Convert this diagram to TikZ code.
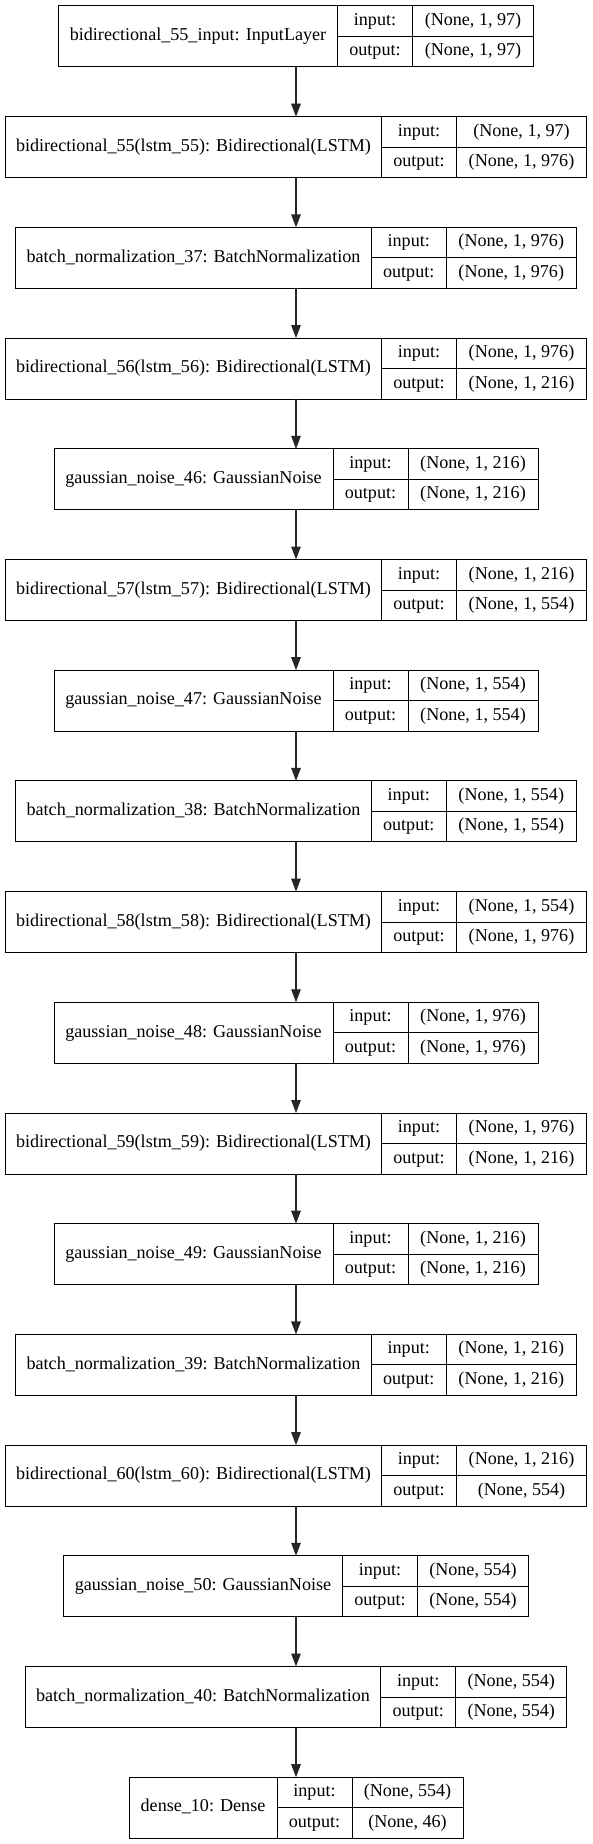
\documentclass[tikz,border=0pt]{standalone}
\usepackage{fontspec}
\setmainfont{Liberation Serif}
\usetikzlibrary{arrows.meta}
\tikzset{
 box/.style={draw=black, line width=1pt, minimum height=61pt, inner sep=0pt, outer sep=0pt},
 sep/.style={draw=black, line width=1pt},
 txt/.style={inner sep=0pt, font=\fontsize{18.1}{21}\selectfont, text=black, text height=12.5pt, text depth=4pt},
 arr/.style={draw=black!85, line width=1.2pt, -{Triangle[length=13pt,width=9.5pt]}}
}
% #1 id, #2 index, #3 label, #4 name width, #5 input shape, #6 output shape, #7 shape width
\newcommand\layer[7]{%
 \pgfmathsetmacro\tot{#4+75+#7}%
 \pgfmathsetmacro\yc{-(6+110.7*#2+30.5)}%
 \pgfmathsetmacro\xa{296-\tot/2}%
 \pgfmathsetmacro\xb{\xa+#4}%
 \pgfmathsetmacro\xc{\xb+75}%
 \pgfmathsetmacro\xd{\xa+\tot}%
 \node[box, minimum width=\tot pt] (#1) at (296,\yc) {};
 \draw[sep] (\xb,{\yc+30.5}) -- (\xb,{\yc-30.5});
 \draw[sep] (\xc,{\yc+30.5}) -- (\xc,{\yc-30.5});
 \draw[sep] (\xb,\yc) -- (\xd,\yc);
 \node[txt] (#1-n) at ({(\xa+\xb)/2},\yc) {#3};
 \node[txt] (#1-il) at ({\xb+37.5},{\yc+15.25}) {input:};
 \node[txt] (#1-ol) at ({\xb+37.5},{\yc-15.25}) {output:};
 \node[txt] (#1-iv) at ({(\xc+\xd)/2},{\yc+15.25}) {#5};
 \node[txt] (#1-ov) at ({(\xc+\xd)/2},{\yc-15.25}) {#6};
}
\begin{document}
\begin{tikzpicture}[x=1pt,y=1pt]
\useasboundingbox (0,0) rectangle (592,-1844);
\fill[white] (0,0) rectangle (592,-1844);
\layer{in55}{0}{bidirectional\_55\_input: InputLayer}{279}{(None, 1, 97)}{(None, 1, 97)}{121}
\layer{bi55}{1}{bidirectional\_55(lstm\_55): Bidirectional(LSTM)}{376}{(None, 1, 97)}{(None, 1, 976)}{130}
\layer{bn37}{2}{batch\_normalization\_37: BatchNormalization}{355.5}{(None, 1, 976)}{(None, 1, 976)}{130}
\layer{bi56}{3}{bidirectional\_56(lstm\_56): Bidirectional(LSTM)}{376}{(None, 1, 976)}{(None, 1, 216)}{130}
\layer{gn46}{4}{gaussian\_noise\_46: GaussianNoise}{279}{(None, 1, 216)}{(None, 1, 216)}{130}
\layer{bi57}{5}{bidirectional\_57(lstm\_57): Bidirectional(LSTM)}{376}{(None, 1, 216)}{(None, 1, 554)}{130}
\layer{gn47}{6}{gaussian\_noise\_47: GaussianNoise}{279}{(None, 1, 554)}{(None, 1, 554)}{130}
\layer{bn38}{7}{batch\_normalization\_38: BatchNormalization}{355.5}{(None, 1, 554)}{(None, 1, 554)}{130}
\layer{bi58}{8}{bidirectional\_58(lstm\_58): Bidirectional(LSTM)}{376}{(None, 1, 554)}{(None, 1, 976)}{130}
\layer{gn48}{9}{gaussian\_noise\_48: GaussianNoise}{279}{(None, 1, 976)}{(None, 1, 976)}{130}
\layer{bi59}{10}{bidirectional\_59(lstm\_59): Bidirectional(LSTM)}{376}{(None, 1, 976)}{(None, 1, 216)}{130}
\layer{gn49}{11}{gaussian\_noise\_49: GaussianNoise}{279}{(None, 1, 216)}{(None, 1, 216)}{130}
\layer{bn39}{12}{batch\_normalization\_39: BatchNormalization}{355.5}{(None, 1, 216)}{(None, 1, 216)}{130}
\layer{bi60}{13}{bidirectional\_60(lstm\_60): Bidirectional(LSTM)}{376}{(None, 1, 216)}{(None, 554)}{130}
\layer{gn50}{14}{gaussian\_noise\_50: GaussianNoise}{279}{(None, 554)}{(None, 554)}{111}
\layer{bn40}{15}{batch\_normalization\_40: BatchNormalization}{355.5}{(None, 554)}{(None, 554)}{111}
\layer{de10}{16}{dense\_10: Dense}{148}{(None, 554)}{(None, 46)}{111}
\foreach \a/\b in {in55/bi55, bi55/bn37, bn37/bi56, bi56/gn46, gn46/bi57, bi57/gn47, gn47/bn38, bn38/bi58, bi58/gn48, gn48/bi59, bi59/gn49, gn49/bn39, bn39/bi60, bi60/gn50, gn50/bn40, bn40/de10}
 \draw[arr] (\a.south) -- (\b.north);
\end{tikzpicture}
\end{document}
